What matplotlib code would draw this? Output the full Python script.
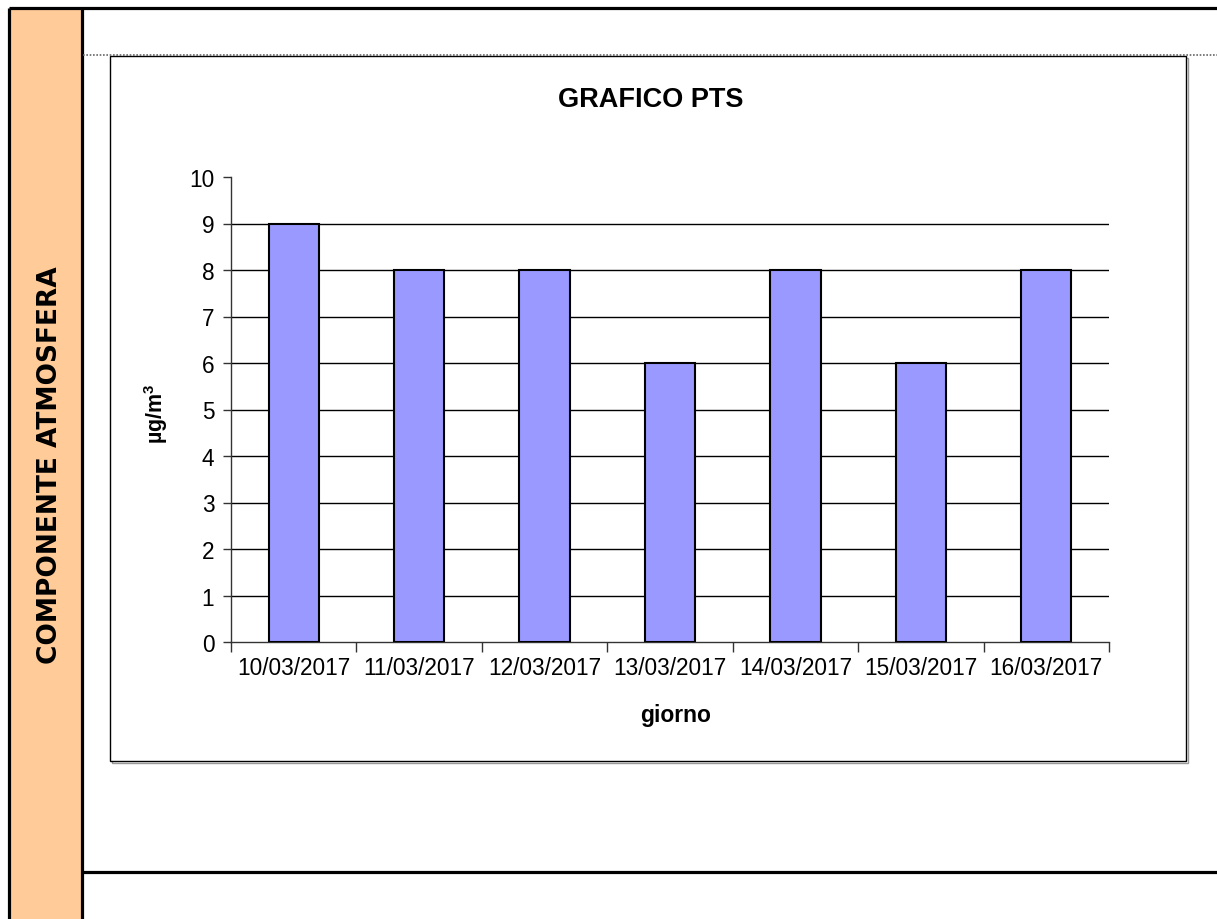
import matplotlib.pyplot as plt
from matplotlib.patches import Rectangle
from matplotlib.lines import Line2D

giorni = ['10/03/2017', '11/03/2017', '12/03/2017', '13/03/2017',
          '14/03/2017', '15/03/2017', '16/03/2017']
pts = [9, 8, 8, 6, 8, 6, 8]

W, H = 1217, 920
fig = plt.figure(figsize=(W / 100, H / 100), dpi=100)


def fx(px):
    return px / W


def fy(py):
    return 1 - py / H


# page frame: orange side column, black rules, dotted separator
fig.patches.append(Rectangle((fx(9), 0), fx(82) - fx(9), fy(9), transform=fig.transFigure,
                             facecolor='#FFCC99', edgecolor='none', zorder=0))
for xs, ys in [((9, 9), (9, 920)), ((82, 82), (9, 920)), ((9, 1217), (9, 9)),
               ((82, 1217), (873, 873))]:
    fig.lines.append(Line2D([fx(x) for x in xs], [fy(y) for y in ys], transform=fig.transFigure,
                            color='black', lw=2.3, solid_capstyle='butt'))
fig.lines.append(Line2D([fx(83), fx(1217)], [fy(56), fy(56)], transform=fig.transFigure,
                        color='#666666', lw=1.2, ls=(0, (1, 1))))
fig.text(fx(50), fy(465), 'COMPONENTE ATMOSFERA', rotation=90, ha='center', va='center',
         fontsize=19, fontweight='bold', family='DejaVu Sans')

# chart box with a light shadow
fig.patches.append(Rectangle((fx(112), fy(764)), fx(1188) - fx(112), fy(59) - fy(764),
                             transform=fig.transFigure, facecolor='none', edgecolor='#999999',
                             lw=1, zorder=1))
fig.patches.append(Rectangle((fx(110), fy(762)), fx(1186) - fx(110), fy(57) - fy(762),
                             transform=fig.transFigure, facecolor='white', edgecolor='black',
                             lw=1, zorder=1))

ax = fig.add_axes([fx(231), fy(643), fx(1109) - fx(231), fy(178) - fy(643)])
ax.set_zorder(2)
ax.patch.set_alpha(0)

x = list(range(len(giorni)))
ax.bar(x, pts, width=0.4, color='#9999FF', edgecolor='black', lw=1.5, zorder=3)

ax.set_xlim(-0.5, len(giorni) - 0.5)
ax.set_ylim(0, 10)
ax.set_yticks(range(0, 11))
for v in range(1, 10):
    ax.axhline(v, color='black', lw=1, zorder=1)

ax.set_xticks([i - 0.5 for i in range(len(giorni) + 1)])
ax.set_xticklabels([])
ax.set_xticks(x, minor=True)
ax.set_xticklabels(giorni, minor=True)
ax.tick_params(axis='x', which='major', length=7, color='#333333', width=1)
ax.tick_params(axis='x', which='minor', length=0, pad=10, labelsize=16.3)
ax.tick_params(axis='y', length=6, color='#333333', width=1, labelsize=16.3, pad=6)

for s in ['top', 'right']:
    ax.spines[s].set_visible(False)
for s in ['left', 'bottom']:
    ax.spines[s].set_color('#333333')
    ax.spines[s].set_linewidth(1)

fig.text(fx(651), fy(100), 'GRAFICO PTS', ha='center', va='center', fontsize=19.5,
         fontweight='bold', family='Liberation Sans')
fig.text(fx(676), fy(716), 'giorno', ha='center', va='center', fontsize=16.5,
         fontweight='bold', family='Liberation Sans')
fig.text(fx(156), fy(414), 'µg/m$^\\mathregular{3}$', rotation=90, ha='center', va='center',
         fontsize=15.5, fontweight='bold', family='Liberation Sans')

for t in ax.get_xticklabels(minor=True) + ax.get_yticklabels():
    t.set_family('Liberation Sans')

fig.savefig('out.png', dpi=100)
